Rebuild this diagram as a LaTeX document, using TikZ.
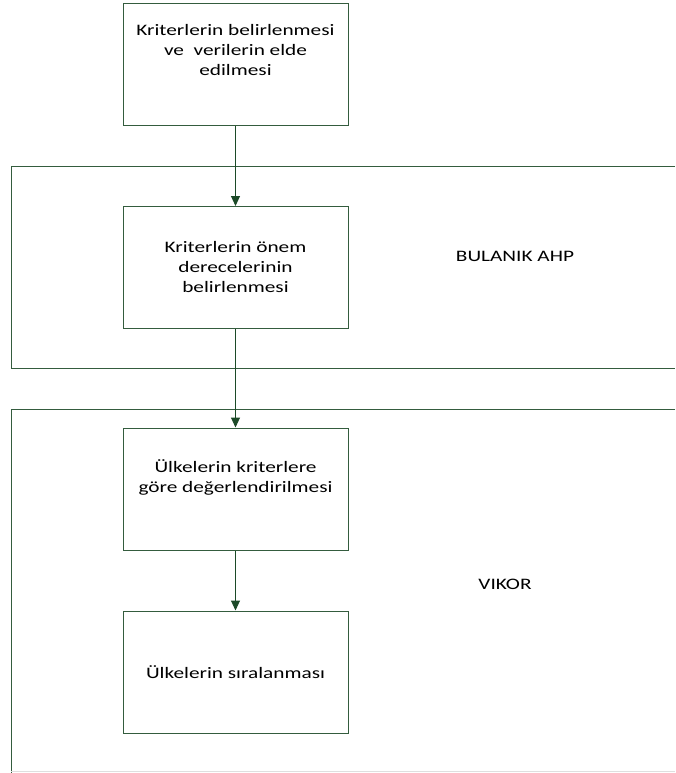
\documentclass[tikz,border=0pt]{standalone}
\usepackage{fontspec}
\setmainfont{Carlito}[FakeStretch=1.33]
\usetikzlibrary{arrows.meta}
\definecolor{boxgreen}{RGB}{52,92,62}
\definecolor{arrowgreen}{RGB}{28,74,40}

\begin{document}
\begin{tikzpicture}[
   x=1pt,y=-1pt,
   stepbox/.style={draw=boxgreen,line width=1pt,minimum width=225pt,minimum height=122pt,
     align=center,inner sep=0pt,font=\fontsize{16}{20}\selectfont},
   flow/.style={draw=arrowgreen,line width=1pt,-{Triangle[width=9pt,length=10pt]}},
   panel/.style={draw=boxgreen,line width=1pt},
   tag/.style={font=\fontsize{16}{20}\selectfont},
   ]
   \useasboundingbox (0,0) rectangle (675,773);
   % panels
   \draw[panel] (675,166) -- (11,166) -- (11,368) -- (675,368);
   \draw[panel] (675,409) -- (11,409) -- (11,773);
   \draw[gray!25,line width=1pt] (11,771) -- (675,771);
   \node[tag] (ahp) at (515,256) {BULANIK AHP};
   \node[tag] (vikor) at (505,584) {VIKOR};
   % steps
   \node[stepbox,text depth=30pt] (s1) at (235.5,65)
     {Kriterlerin belirlenmesi\\ve\ \ verilerin elde\\edilmesi};
   \node[stepbox] (s2) at (235.5,267.5)
     {Kriterlerin önem\\derecelerinin\\belirlenmesi};
   \node[stepbox,text depth=26pt] (s3) at (235.5,489)
     {Ülkelerin kriterlere\\göre değerlendirilmesi};
   \node[stepbox] (s4) at (235.5,672)
     {Ülkelerin sıralanması};
   % arrows
   \draw[flow] (s1) -- (s2);
   \draw[flow] (s2) -- (s3);
   \draw[flow] (s3) -- (s4);
\end{tikzpicture}
\end{document}
